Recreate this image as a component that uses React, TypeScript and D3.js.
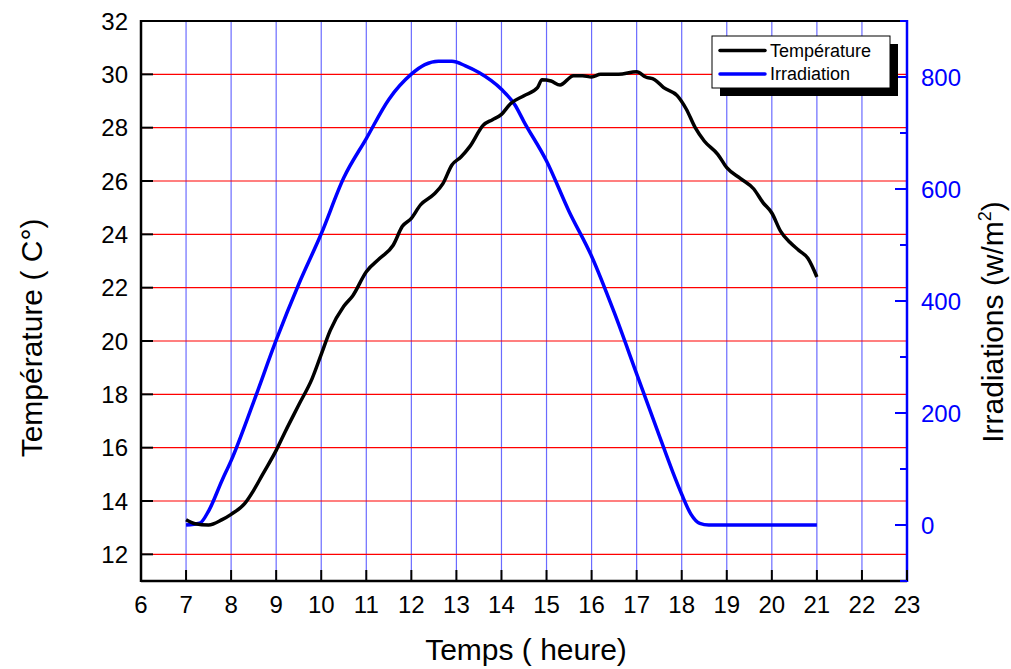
import React from "react";
import * as d3 from "d3";

// temperature readings (C°) over the day
const tempHours = [7.0, 7.2, 7.5, 7.8, 8.0, 8.3, 8.5, 8.7, 9.0, 9.2, 9.5, 9.8, 10.0, 10.2, 10.5, 10.7, 11.0, 11.3, 11.6, 11.8, 12.0, 12.2, 12.5, 12.7, 12.9, 13.1, 13.3, 13.6, 13.8, 14.0, 14.2, 14.5, 14.8, 14.9, 15.1, 15.3, 15.6, 15.8, 16.0, 16.2, 16.4, 16.6, 17.0, 17.2, 17.4, 17.6, 17.9, 18.1, 18.3, 18.5, 18.8, 19.0, 19.3, 19.6, 19.8, 20.0, 20.2, 20.4, 20.6, 20.8, 21.0];
const tempValues = [13.3, 13.15, 13.1, 13.3, 13.5, 13.9, 14.4, 15.0, 15.9, 16.6, 17.6, 18.6, 19.5, 20.4, 21.3, 21.7, 22.6, 23.1, 23.6, 24.3, 24.6, 25.1, 25.5, 25.9, 26.6, 26.9, 27.3, 28.1, 28.3, 28.5, 28.9, 29.2, 29.5, 29.8, 29.75, 29.6, 29.95, 29.95, 29.9, 30.0, 30.0, 30.0, 30.1, 29.9, 29.8, 29.5, 29.2, 28.7, 28.0, 27.5, 27.0, 26.5, 26.1, 25.7, 25.2, 24.8, 24.1, 23.7, 23.4, 23.1, 22.4];

// irradiation (w/m2)
const irrHours = [7.0, 7.3, 7.5, 7.8, 8.0, 8.5, 9.0, 9.5, 10.0, 10.5, 11.0, 11.5, 12.0, 12.3, 12.6, 12.9, 13.2, 13.5, 14.0, 14.3, 14.5, 15.0, 15.5, 16.0, 16.5, 17.0, 17.5, 17.8, 18.0, 18.2, 18.4, 18.6, 19.0, 20.0, 21.0];
const irrValues = [0, 3, 25, 80, 115, 220, 330, 430, 520, 620, 690, 760, 805, 822, 828, 828, 820, 808, 778, 750, 720, 650, 560, 480, 380, 270, 160, 95, 55, 20, 3, 0, 0, 0, 0];

const xTicks = d3.range(6, 24);
const tempTicks = d3.range(12, 33, 2);
const irrMajor = [0, 200, 400, 600, 800];
const irrMinor = [-100, 100, 300, 500, 700, 900];

const FONT = "Arial, 'Liberation Sans', sans-serif";

const App = () => {
  const ref = React.useRef<SVGSVGElement>(null);

  React.useEffect(() => {
    const svg = d3.select(ref.current);
    svg.selectAll("*").remove();

    const left = 141, right = 907, top = 21, bottom = 581;

    const x = d3.scaleLinear().domain([6, 23]).range([left, right]);
    const yT = d3.scaleLinear().domain([11, 32]).range([bottom, top]);
    const yI = d3.scaleLinear().domain([-100, 900]).range([bottom, top]);

    // grid
    svg.append("g").selectAll("line").data(d3.range(7, 23)).enter().append("line")
      .attr("x1", d => x(d)).attr("x2", d => x(d))
      .attr("y1", top).attr("y2", bottom)
      .attr("stroke", "#6b6bff").attr("stroke-width", 1.2);
    svg.append("g").selectAll("line").data(d3.range(12, 31, 2)).enter().append("line")
      .attr("x1", left).attr("x2", right)
      .attr("y1", d => yT(d)).attr("y2", d => yT(d))
      .attr("stroke", "#ff0000").attr("stroke-width", 1.2);

    // curves
    const tempData = tempHours.map((h, i) => [h, tempValues[i]]);
    const irrData = irrHours.map((h, i) => [h, irrValues[i]]);
    const lineT = d3.line<number[]>().x(d => x(d[0])).y(d => yT(d[1])).curve(d3.curveMonotoneX);
    const lineI = d3.line<number[]>().x(d => x(d[0])).y(d => yI(d[1])).curve(d3.curveMonotoneX);
    svg.append("path").attr("d", lineI(irrData)).attr("fill", "none")
      .attr("stroke", "#0000ff").attr("stroke-width", 3.5);
    svg.append("path").attr("d", lineT(tempData)).attr("fill", "none")
      .attr("stroke", "#000").attr("stroke-width", 3.5);

    // frame
    svg.append("line").attr("x1", left).attr("x2", right).attr("y1", top).attr("y2", top)
      .attr("stroke", "#000").attr("stroke-width", 2);
    svg.append("line").attr("x1", left).attr("x2", right).attr("y1", bottom).attr("y2", bottom)
      .attr("stroke", "#000").attr("stroke-width", 2.5);
    svg.append("line").attr("x1", left).attr("x2", left).attr("y1", top - 1).attr("y2", bottom + 1)
      .attr("stroke", "#000").attr("stroke-width", 2.5);
    svg.append("line").attr("x1", right).attr("x2", right).attr("y1", top - 1).attr("y2", bottom + 1)
      .attr("stroke", "#0000ff").attr("stroke-width", 2.5);

    // bottom axis
    const bx = svg.append("g");
    bx.selectAll("line").data(xTicks).enter().append("line")
      .attr("x1", d => x(d)).attr("x2", d => x(d))
      .attr("y1", bottom).attr("y2", bottom - 11)
      .attr("stroke", "#000").attr("stroke-width", 2);
    bx.selectAll("text").data(xTicks).enter().append("text")
      .attr("x", d => x(d)).attr("y", 613)
      .attr("text-anchor", "middle").attr("font-family", FONT).attr("font-size", 24)
      .text(d => d);

    // left axis
    const lx = svg.append("g");
    lx.selectAll("line").data(tempTicks).enter().append("line")
      .attr("x1", left).attr("x2", left + 12)
      .attr("y1", d => yT(d)).attr("y2", d => yT(d))
      .attr("stroke", "#000").attr("stroke-width", 2);
    lx.selectAll("text").data(tempTicks).enter().append("text")
      .attr("x", 128).attr("y", d => yT(d)).attr("dy", "0.36em")
      .attr("text-anchor", "end").attr("font-family", FONT).attr("font-size", 24)
      .text(d => d);

    // right axis
    const rx = svg.append("g");
    rx.selectAll("line.major").data(irrMajor).enter().append("line")
      .attr("x1", right).attr("x2", right - 12)
      .attr("y1", d => yI(d)).attr("y2", d => yI(d))
      .attr("stroke", "#0000ff").attr("stroke-width", 2);
    rx.selectAll("line.minor").data(irrMinor).enter().append("line")
      .attr("x1", right).attr("x2", right - 7)
      .attr("y1", d => yI(d)).attr("y2", d => yI(d))
      .attr("stroke", "#0000ff").attr("stroke-width", 2);
    rx.selectAll("text").data(irrMajor).enter().append("text")
      .attr("x", 921).attr("y", d => yI(d)).attr("dy", "0.36em")
      .attr("text-anchor", "start").attr("font-family", FONT).attr("font-size", 24)
      .attr("fill", "#0000ff")
      .text(d => d);

    // axis titles
    svg.append("text").attr("x", 526).attr("y", 660)
      .attr("text-anchor", "middle").attr("font-family", FONT).attr("font-size", 30)
      .text("Temps ( heure)");
    svg.append("text").attr("transform", "translate(42,338) rotate(-90)")
      .attr("text-anchor", "middle").attr("font-family", FONT).attr("font-size", 30)
      .text("Température ( C°)");
    const rt = svg.append("text").attr("transform", "translate(1003,322) rotate(-90)")
      .attr("text-anchor", "middle").attr("font-family", FONT).attr("font-size", 30);
    rt.append("tspan").text("Irradiations (w/m");
    rt.append("tspan").attr("font-size", 18).attr("dy", -12).text("2");
    rt.append("tspan").attr("dy", 12).text(")");

    // legend
    const lg = svg.append("g");
    lg.append("rect").attr("x", 720).attr("y", 44).attr("width", 178).attr("height", 52).attr("fill", "#000");
    lg.append("rect").attr("x", 712).attr("y", 36).attr("width", 178).attr("height", 52)
      .attr("fill", "#fff").attr("stroke", "#000").attr("stroke-width", 1);
    const items = [["Température", "#000"], ["Irradiation", "#0000ff"]];
    items.forEach((it, i) => {
      const yy = 50.5 + i * 23.5;
      lg.append("line").attr("x1", 720).attr("x2", 765).attr("y1", yy).attr("y2", yy)
        .attr("stroke", it[1]).attr("stroke-width", 3.5).attr("stroke-linecap", "round");
      lg.append("text").attr("x", 770).attr("y", yy).attr("dy", "0.36em")
        .attr("font-family", FONT).attr("font-size", 18).text(it[0]);
    });
  }, []);

  return (
    <svg ref={ref} width={1011} height={669}
      style={{ position: "absolute", left: 0, top: 0, background: "#fff" }} />
  );
};

export default App;
